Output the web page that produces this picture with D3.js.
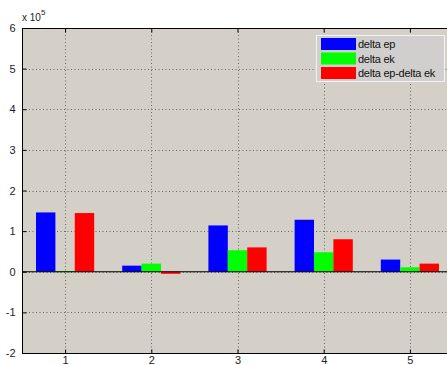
<!DOCTYPE html>
<html>
<head>
<meta charset="utf-8">
<script src="https://cdn.jsdelivr.net/npm/d3@7"></script>
<style>
  html, body { margin: 0; padding: 0; background: #ffffff; }
  svg { display: block; font-family: "Liberation Sans", Arial, sans-serif; }
</style>
</head>
<body>
<svg id="chart" width="447" height="365"></svg>
<script>
// Grouped bar data (values in units of 10^5)
const categories = [1, 2, 3, 4, 5];
const seriesNames = ["delta ep", "delta ek", "delta ep-delta ek"];
const deltaEp = [1.46, 0.15, 1.14, 1.28, 0.30];
const deltaEk = [0.015, 0.20, 0.53, 0.48, 0.11];
const deltaDiff = [1.445, -0.05, 0.60, 0.80, 0.20];
const seriesColors = ["#0000ff", "#00ff00", "#ff0000"];
const yTicks = [-2, -1, 0, 1, 2, 3, 4, 5, 6];
const exponentLabel = "5";

const series = [deltaEp, deltaEk, deltaDiff];

const svg = d3.select("#chart");
const plotLeft = 22, plotTop = 28, plotBottom = 353, plotRight = 453;

const x = d3.scaleLinear().domain([0.5, 5.5]).range([plotLeft, plotRight]);
const y = d3.scaleLinear().domain([-2, 6]).range([plotBottom, plotTop]);

// Plot background
svg.append("rect")
  .attr("x", plotLeft).attr("y", plotTop)
  .attr("width", plotRight - plotLeft).attr("height", plotBottom - plotTop)
  .attr("fill", "#d4d0c8");

// Dotted grid
const grid = svg.append("g")
  .attr("stroke", "#666")
  .attr("stroke-width", 1)
  .attr("stroke-dasharray", "1,2.5");
grid.selectAll("line.h")
  .data(yTicks.filter(t => t > -2 && t < 6))
  .join("line")
  .attr("class", "h")
  .attr("x1", plotLeft).attr("x2", plotRight)
  .attr("y1", d => Math.round(y(d)) + 0.5).attr("y2", d => Math.round(y(d)) + 0.5);
grid.selectAll("line.v")
  .data(categories)
  .join("line")
  .attr("class", "v")
  .attr("y1", plotTop).attr("y2", plotBottom)
  .attr("x1", d => Math.round(x(d)) + 0.5).attr("x2", d => Math.round(x(d)) + 0.5);

// Bars
const barW = 0.225;
const offsets = [-barW, 0, barW];
series.forEach((vals, si) => {
  svg.append("g")
    .selectAll("rect")
    .data(vals)
    .join("rect")
    .attr("x", (d, i) => x(categories[i] + offsets[si] - barW / 2))
    .attr("width", x(barW) - x(0))
    .attr("y", d => y(Math.max(0, d)))
    .attr("height", d => Math.max(1, Math.abs(y(d) - y(0))))
    .attr("fill", seriesColors[si]);
});

// Zero baseline
svg.append("line")
  .attr("x1", plotLeft).attr("x2", plotRight)
  .attr("y1", y(0)).attr("y2", y(0))
  .attr("stroke", "#000").attr("stroke-width", 1);

// Axes (MATLAB-style, inward ticks, plain hyphen minus)
const fmt = d => String(d);
const yAxis = d3.axisLeft(y).tickValues(yTicks).tickSize(-4).tickPadding(7).tickFormat(fmt);
const gY = svg.append("g").attr("transform", `translate(${plotLeft + 0.5},0)`).call(yAxis);
const xAxis = d3.axisBottom(x).tickValues(categories).tickSize(-4).tickPadding(2.5).tickFormat(fmt);
const gX = svg.append("g").attr("transform", `translate(0,${plotBottom + 0.5})`).call(xAxis);
const xTop = d3.axisTop(x).tickValues(categories).tickSize(-4).tickFormat("");
const gXT = svg.append("g").attr("transform", `translate(0,${plotTop + 0.5})`).call(xTop);

[gY, gX, gXT].forEach(g => {
  g.select(".domain").attr("stroke", "#000").attr("stroke-width", 1);
  g.selectAll(".tick line").attr("stroke", "#000");
  g.selectAll(".tick text").attr("fill", "#222").attr("font-size", 11)
    .attr("font-family", "Liberation Sans, Arial, sans-serif");
});
gY.select(".domain").attr("d", `M0,${plotTop}V${plotBottom}`);
gX.select(".domain").attr("d", `M${plotLeft},0H${plotRight}`);
gXT.select(".domain").attr("d", `M${plotLeft},0H${plotRight}`);

// Exponent label
const exp = svg.append("text")
  .attr("x", 22).attr("y", 21)
  .attr("font-size", 10).attr("fill", "#222");
exp.append("tspan").text("x 10");
exp.append("tspan").attr("dy", -6).attr("font-size", 8).text(exponentLabel);

// Legend
const lg = svg.append("g").attr("transform", "translate(316,35)");
lg.append("rect")
  .attr("x", 0.5).attr("y", 0.5).attr("width", 128).attr("height", 46)
  .attr("fill", "#d0cfcd").attr("stroke", "#f2f2f2").attr("stroke-width", 1);
seriesNames.forEach((name, i) => {
  const row = lg.append("g").attr("transform", `translate(0,${3 + i * 14.5})`);
  row.append("rect")
    .attr("x", 5).attr("y", 0).attr("width", 35).attr("height", 12)
    .attr("fill", seriesColors[i]);
  row.append("text")
    .attr("x", 42).attr("y", 10)
    .attr("font-size", 11).attr("fill", "#111")
    .attr("letter-spacing", -0.25)
    .text(name);
});
</script>
</body>
</html>
